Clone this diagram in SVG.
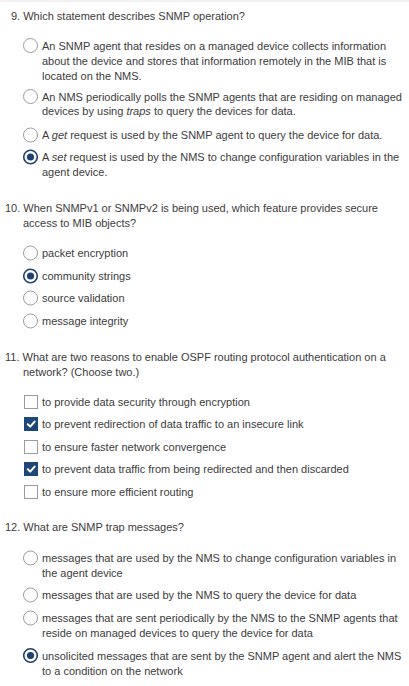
<svg xmlns="http://www.w3.org/2000/svg" width="409" height="686" viewBox="0 0 409 686">
<style>
text{font-family:"Liberation Sans",Arial,sans-serif;font-size:11px;fill:#3c3c3c}
.i{font-style:italic}
.r{fill:#fff;stroke:#9c9c9c;stroke-width:1}
.rs{fill:#fff;stroke:#1e416f;stroke-width:1.6}
.dot{fill:#1e416f}
.cb{fill:#fff;stroke:#9c9c9c;stroke-width:1}
.cbs{fill:#1f4877;stroke:#1f4877;stroke-width:1}
.ck{fill:none;stroke:#fff;stroke-width:2;stroke-linecap:round;stroke-linejoin:round}
</style>
<rect x="0" y="0" width="409" height="686" fill="#fff"/>
<rect x="0" y="0" width="409" height="2" fill="#f1f1f1"/>

<g id="q9">
<text x="11" y="20">9. Which statement describes SNMP operation?</text>
<g id="q9a">
<circle class="r" cx="30.5" cy="45.5" r="7"/>
<text x="42" y="49.5">An SNMP agent that resides on a managed device collects information</text>
<text x="42" y="64.5">about the device and stores that information remotely in the MIB that is</text>
<text x="42" y="79.5">located on the NMS.</text>
</g>
<g id="q9b">
<circle class="r" cx="30.5" cy="96.5" r="7"/>
<text x="42" y="100.5">An NMS periodically polls the SNMP agents that are residing on managed</text>
<text x="42" y="115">devices by using <tspan class="i">traps</tspan> to query the devices for data.</text>
</g>
<g id="q9c">
<circle class="r" cx="30.5" cy="135" r="7"/>
<text x="42" y="139">A <tspan class="i">get</tspan> request is used by the SNMP agent to query the device for data.</text>
</g>
<g id="q9d">
<circle class="rs" cx="30.5" cy="157" r="6.8"/>
<circle class="dot" cx="30.5" cy="157" r="3.6"/>
<text x="42" y="161">A <tspan class="i">set</tspan> request is used by the NMS to change configuration variables in the</text>
<text x="42" y="176">agent device.</text>
</g>
</g>

<g id="q10">
<text x="5" y="212">10. When SNMPv1 or SNMPv2 is being used, which feature provides secure</text>
<text x="23" y="227">access to MIB objects?</text>
<g id="q10a">
<circle class="r" cx="30.5" cy="253" r="7"/>
<text x="42" y="257">packet encryption</text>
</g>
<g id="q10b">
<circle class="rs" cx="30.5" cy="276" r="6.8"/>
<circle class="dot" cx="30.5" cy="276" r="3.6"/>
<text x="42" y="280">community strings</text>
</g>
<g id="q10c">
<circle class="r" cx="30.5" cy="298" r="7"/>
<text x="42" y="302">source validation</text>
</g>
<g id="q10d">
<circle class="r" cx="30.5" cy="321" r="7"/>
<text x="42" y="325">message integrity</text>
</g>
</g>

<g id="q11">
<text x="5" y="361">11. What are two reasons to enable OSPF routing protocol authentication on a</text>
<text x="23" y="376">network? (Choose two.)</text>
<g id="q11a">
<rect class="cb" x="24.5" y="395.5" width="13" height="13"/>
<text x="42" y="406">to provide data security through encryption</text>
</g>
<g id="q11b">
<rect class="cbs" x="24.5" y="417.5" width="13" height="13"/>
<path class="ck" d="M27.8 424.3 L30.2 426.6 L34.6 421.6"/>
<text x="42" y="428">to prevent redirection of data traffic to an insecure link</text>
</g>
<g id="q11c">
<rect class="cb" x="24.5" y="440.5" width="13" height="13"/>
<text x="42" y="451">to ensure faster network convergence</text>
</g>
<g id="q11d">
<rect class="cbs" x="24.5" y="462.5" width="13" height="13"/>
<path class="ck" d="M27.8 469.3 L30.2 471.6 L34.6 466.6"/>
<text x="42" y="473">to prevent data traffic from being redirected and then discarded</text>
</g>
<g id="q11e">
<rect class="cb" x="24.5" y="485.5" width="13" height="13"/>
<text x="42" y="496">to ensure more efficient routing</text>
</g>
</g>

<g id="q12">
<text x="5" y="530.5">12. What are SNMP trap messages?</text>
<g id="q12a">
<circle class="r" cx="30.5" cy="558" r="7"/>
<text x="42" y="562">messages that are used by the NMS to change configuration variables in</text>
<text x="42" y="577">the agent device</text>
</g>
<g id="q12b">
<circle class="r" cx="30.5" cy="595" r="7"/>
<text x="42" y="599">messages that are used by the NMS to query the device for data</text>
</g>
<g id="q12c">
<circle class="r" cx="30.5" cy="618" r="7"/>
<text x="42" y="622">messages that are sent periodically by the NMS to the SNMP agents that</text>
<text x="42" y="637">reside on managed devices to query the device for data</text>
</g>
<g id="q12d">
<circle class="rs" cx="30.5" cy="655.5" r="6.8"/>
<circle class="dot" cx="30.5" cy="655.5" r="3.6"/>
<text x="42" y="659.5">unsolicited messages that are sent by the SNMP agent and alert the NMS</text>
<text x="42" y="674.5">to a condition on the network</text>
</g>
</g>
</svg>
